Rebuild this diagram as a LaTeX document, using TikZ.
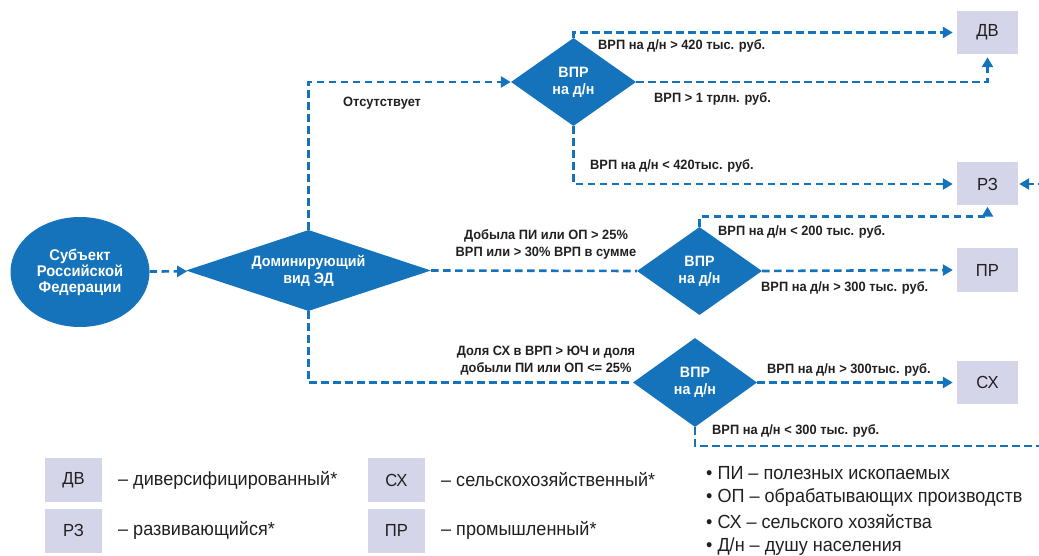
\documentclass[tikz,border=0pt]{standalone}
\usepackage{fontspec}
\setmainfont{Liberation Sans}[FakeStretch=0.95]
\usetikzlibrary{shapes.geometric,arrows.meta}
\definecolor{myblue}{HTML}{1473BA}
\definecolor{boxfill}{HTML}{D5D5EA}
\definecolor{txt}{HTML}{231F20}
\tikzset{
  wire/.style={draw=myblue, line width=2.6pt, dash pattern=on 7.5pt off 4.5pt},
  conn/.style={wire, -{Triangle[length=10pt,width=11pt]}},
  dia/.style={shape=diamond, fill=myblue, text=white, font=\fontsize{15}{17}\selectfont\bfseries, inner sep=0pt, align=center},
  catbox/.style={fill=boxfill, text=txt, minimum width=61pt, minimum height=43pt, font=\fontsize{17.5}{20}\selectfont, inner sep=0pt},
  lbl/.style={text=txt, font=\fontsize{13.5}{17}\selectfont\bfseries, inner sep=0pt, align=center},
  leg/.style={text=txt, font=\fontsize{19}{21}\selectfont, inner sep=0pt, anchor=west},
}
\begin{document}
\begin{tikzpicture}[x=1pt,y=-1pt]
\useasboundingbox (0,0) rectangle (1039,556);
\clip (0,0) rectangle (1039,556);
% main nodes
\node[ellipse, fill=myblue, text=white, minimum width=139pt, minimum height=110pt, inner sep=0pt, align=center, font=\fontsize{15.5}{16}\selectfont\bfseries] (circ) at (80,272) {Субъект\\Российской\\Федерации};
\node[dia, minimum width=245pt, minimum height=81pt, aspect=3] (main) at (308.5,270.5) {Доминирующий\\вид ЭД};
\node[dia, minimum width=125pt, minimum height=88pt, aspect=1.4] (d1) at (573.5,82) {ВПР\\на д/н};
\node[dia, minimum width=125pt, minimum height=88pt, aspect=1.4] (d2) at (699.5,271) {ВПР\\на д/н};
\node[dia, minimum width=124pt, minimum height=89pt, aspect=1.4] (d3) at (695,382.5) {ВПР\\на д/н};
\node[catbox] (dv) at (987.5,32.5) {ДВ};
\node[catbox] (rz) at (987.5,184) {РЗ};
\node[catbox] (pr) at (987.5,270) {ПР};
\node[catbox] (sx) at (987.5,382.5) {СХ};
% connectors
\draw[conn, shorten >=1pt] (circ) -- (main);
\draw[conn] (main.north) |- (d1.west);
\draw[conn, shorten >=4pt] (d1.north) |- (dv.west);
\draw[conn, shorten >=3pt] (d1.east) -| (dv.south);
\draw[conn, shorten >=4pt] (d1.south) |- (rz.west);
\draw[wire] (main.east) -- (d2.west);
\draw[conn, shorten >=1pt] (d2.north) -- ++(0,-10) -| (rz.south);
\draw[conn, shorten >=4pt] (d2.east) -- (pr.west);
\draw[wire] (main.south) |- (d3.west);
\draw[conn, shorten >=4pt] (d3.east) -- (sx.west);
\draw[conn, shorten >=1pt] (d3.south) |- (1060,446) |- (rz.east);
% connector labels
\node[lbl, anchor=west] (l0) at (343,103) {Отсутствует};
\node[lbl, anchor=west] (l1) at (598,46) {ВРП на д/н > 420 тыс. руб.};
\node[lbl, anchor=west] (l2) at (654,99) {ВРП > 1 трлн. руб.};
\node[lbl, anchor=west] (l3) at (590,166) {ВРП на д/н < 420тыс. руб.};
\node[lbl] (l4) at (546,244.5) {Добыла ПИ или ОП > 25\%\\ВРП или > 30\% ВРП в сумме};
\node[lbl, anchor=west] (l5) at (718,232) {ВРП на д/н < 200 тыс. руб.};
\node[lbl, anchor=west] (l6) at (761,288) {ВРП на д/н > 300 тыс. руб.};
\node[lbl] (l7) at (546,361) {Доля СХ в ВРП > ЮЧ и доля\\добыли ПИ или ОП <= 25\%};
\node[lbl, anchor=west] (l8) at (767,370) {ВРП на д/н > 300тыс. руб.};
\node[lbl, anchor=west] (l9) at (712,431) {ВРП на д/н < 300 тыс. руб.};
% legend
\node[catbox, minimum width=57pt, minimum height=44pt] (kdv) at (73.5,480) {ДВ};
\node[catbox, minimum width=57pt, minimum height=44pt] (krz) at (73.5,530.5) {РЗ};
\node[catbox, minimum width=57pt, minimum height=44pt] (ksx) at (396.5,480) {СХ};
\node[catbox, minimum width=57pt, minimum height=44pt] (kpr) at (396.5,530.5) {ПР};
\node[leg] (tdv) at (118,480) {– диверсифицированный*};
\node[leg] (trz) at (118,530.5) {– развивающийся*};
\node[leg] (tsx) at (441,480) {– сельскохозяйственный*};
\node[leg] (tpr) at (441,530.5) {– промышленный*};
\node[leg] (b1) at (706,473) {• ПИ – полезных ископаемых};
\node[leg] (b2) at (706,498) {• ОП – обрабатывающих производств};
\node[leg] (b3) at (706,522) {• СХ – сельского хозяйства};
\node[leg] (b4) at (706,547) {• Д/н – душу населения};
\end{tikzpicture}
\end{document}
